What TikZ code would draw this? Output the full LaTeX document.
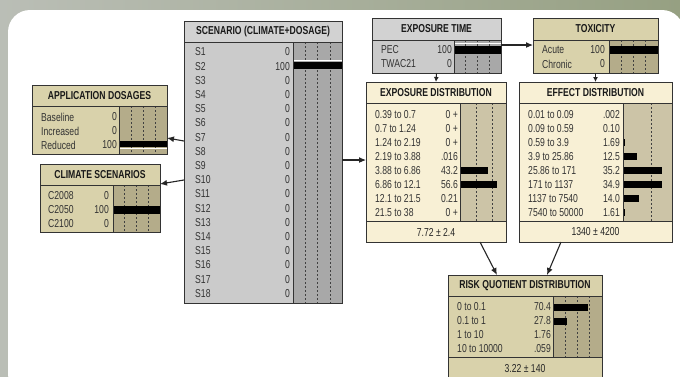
\documentclass[tikz,border=0pt]{standalone}
\usepackage{fontspec}
\setmainfont{Liberation Sans}[FakeStretch=0.75]
\usetikzlibrary{arrows.meta}

\definecolor{photoL}{RGB}{186,190,182}
\definecolor{photoR}{RGB}{150,160,130}
\definecolor{greytitle}{RGB}{210,210,210}
\definecolor{greybody}{RGB}{203,203,203}
\definecolor{greybar}{RGB}{168,168,168}
\definecolor{tanbody}{RGB}{217,210,171}
\definecolor{tanbar}{RGB}{180,172,138}
\definecolor{creambody}{RGB}{248,240,213}
\definecolor{creambar}{RGB}{204,196,167}

\tikzset{
  panel/.style={anchor=north west, inner sep=0pt, outer sep=0pt},
  frame/.style={draw=black!80, line width=0.9pt},
  title/.style={font=\bfseries\fontsize{11.5}{13}\selectfont, text=black!90, inner sep=0pt},
  lbl/.style={anchor=west, font=\fontsize{11.5}{13}\selectfont, text=black!80, inner sep=0pt},
  val/.style={anchor=east, font=\fontsize{11.5}{13}\selectfont, text=black!80, inner sep=0pt},
  stat/.style={font=\fontsize{11.5}{13}\selectfont, text=black!85, inner sep=0pt},
  tick/.style={black!75, line width=0.8pt, dash pattern=on 1.5pt off 2.5pt},
  link/.style={-{Latex[length=7pt,width=6pt]}, line width=1.1pt, black!85},
  shortlink/.style={-{Latex[length=5pt,width=5pt]}, line width=1.1pt, black!85},
}

\begin{document}
\begin{tikzpicture}[x=1pt,y=-1pt]
  \clip (0,0) rectangle (680,376);
  \shade[left color=photoL, right color=photoR] (0,0) rectangle (680,376);
  \fill[white, rounded corners=22pt] (8,10) rectangle (684,396);

  % scenario
  \node[panel, fill=greybody, minimum width=158, minimum height=282] (scen) at (184,21) {};
  \fill[greytitle] (184,21) rectangle (342,42);
  \fill[greybar] (293,42) rectangle (342,303);
  \foreach \x in {305,317.5,330}
    \draw[tick] (\x,42) -- (\x,303);
  \draw[white, line width=1.2pt] (293,60.5) -- (342,60.5);
  \fill (293,62) rectangle (342,69);
  \node[title] (scen-t) at (263,32) {SCENARIO (CLIMATE+DOSAGE)};
  \foreach \i in {1,...,18} {
    \pgfmathsetmacro\yy{52+14.2*(\i-1)}
    \node[lbl] (scen-l\i) at (195,\yy) {S\i};
    \node[val] (scen-v\i) at (290,\yy) {\ifnum\i=2 100\else 0\fi};
  }
  \draw[frame] (scen.north west) rectangle (scen.south east);
  \draw[frame] (184,42) -- (342,42) (293,42) -- (293,303);

  % application dosages
  \node[panel, fill=tanbody, minimum width=135, minimum height=69] (dose) at (32,85) {};
  \fill[tanbar] (119,106) rectangle (167,154);
  \foreach \x in {131,143,155}
    \draw[tick] (\x,106) -- (\x,154);
  \fill (119,140.5) rectangle (167,147);
  \draw[white, line width=1.2pt] (119,148.5) -- (167,148.5);
  \node[title] (dose-t) at (99.5,96) {APPLICATION DOSAGES};
  \foreach \lab/\val [count=\i] in {Baseline/0, Increased/0, Reduced/100} {
    \pgfmathsetmacro\yy{117+14*(\i-1)}
    \node[lbl] (dose-l\i) at (41,\yy) {\lab};
    \node[val] (dose-v\i) at (117,\yy) {\val};
  }
  \draw[frame] (dose.north west) rectangle (dose.south east);
  \draw[frame] (32,106) -- (167,106) (119,106) -- (119,154);

  % climate scenarios
  \node[panel, fill=tanbody, minimum width=120, minimum height=68] (clim) at (40,164) {};
  \fill[tanbar] (113,185) rectangle (160,232);
  \foreach \x in {124.75,136.5,148.25}
    \draw[tick] (\x,185) -- (\x,232);
  \fill (113,206) rectangle (160,213.5);
  \node[title] (clim-t) at (100,175) {CLIMATE SCENARIOS};
  \foreach \lab/\val [count=\i] in {C2008/0, C2050/100, C2100/0} {
    \pgfmathsetmacro\yy{196+14*(\i-1)}
    \node[lbl] (clim-l\i) at (48,\yy) {\lab};
    \node[val] (clim-v\i) at (109,\yy) {\val};
  }
  \draw[frame] (clim.north west) rectangle (clim.south east);
  \draw[frame] (40,185) -- (160,185) (113,185) -- (113,232);

  % exposure time
  \node[panel, fill=greybody, minimum width=129, minimum height=55] (etime) at (372,18) {};
  \fill[greytitle] (372,18) rectangle (501,40);
  \fill[greybar] (454,40) rectangle (501,73);
  \foreach \x in {465.75,477.5,489.25}
    \draw[tick] (\x,40) -- (\x,73);
  \draw[white, line width=1.2pt] (454,43.5) -- (501,43.5);
  \fill (454,45.5) rectangle (501,53.5);
  \node[title] (etime-t) at (436.5,29) {EXPOSURE TIME};
  \foreach \lab/\val [count=\i] in {PEC/100, TWAC21/0} {
    \pgfmathsetmacro\yy{50+14*(\i-1)}
    \node[lbl] (etime-l\i) at (381,\yy) {\lab};
    \node[val] (etime-v\i) at (452,\yy) {\val};
  }
  \draw[frame] (etime.north west) rectangle (etime.south east);
  \draw[frame] (372,40) -- (501,40) (454,40) -- (454,73);

  % toxicity
  \node[panel, fill=tanbody, minimum width=125, minimum height=55] (tox) at (533,18) {};
  \fill[tanbar] (609,40) rectangle (658,73);
  \foreach \x in {621.25,633.5,645.75}
    \draw[tick] (\x,40) -- (\x,73);
  \fill (609,45.5) rectangle (658,53.5);
  \node[title] (tox-t) at (595.5,29) {TOXICITY};
  \foreach \lab/\val [count=\i] in {Acute/100, Chronic/0} {
    \pgfmathsetmacro\yy{50+14*(\i-1)}
    \node[lbl] (tox-l\i) at (542,\yy) {\lab};
    \node[val] (tox-v\i) at (605,\yy) {\val};
  }
  \draw[frame] (tox.north west) rectangle (tox.south east);
  \draw[frame] (533,40) -- (658,40) (609,40) -- (609,73);

  % exposure distribution
  \node[panel, fill=creambody, minimum width=140, minimum height=160] (expd) at (366,82) {};
  \fill[creambar] (460,103) rectangle (506,221);
  \foreach \x in {476,492.5}
    \draw[tick] (\x,103) -- (\x,221);
  \node[title] (expd-t) at (436,93) {EXPOSURE DISTRIBUTION};
  \foreach \lab/\val/\len [count=\i] in {0.39 to 0.7/0 +/0, 0.7 to 1.24/0 +/0,
      1.24 to 2.19/0 +/0, 2.19 to 3.88/.016/0, 3.88 to 6.86/43.2/28,
      6.86 to 12.1/56.6/36.8, 12.1 to 21.5/0.21/0, 21.5 to 38/0 +/0} {
    \pgfmathsetmacro\yy{114.5+14*(\i-1)}
    \node[lbl] (expd-l\i) at (375,\yy) {\lab};
    \node[val] (expd-v\i) at (458,\yy) {\val};
    \fill (460,\yy-3.5) rectangle ++(\len,7);
  }
  \node[stat] (expd-s) at (436,232) {7.72 ± 2.4};
  \draw[frame] (expd.north west) rectangle (expd.south east);
  \draw[frame] (366,103) -- (506,103) (460,103) -- (460,221) (366,221) -- (506,221);

  % effect distribution
  \node[panel, fill=creambody, minimum width=153, minimum height=160] (effd) at (519,82) {};
  \fill[creambar] (623,103) rectangle (672,221);
  \draw[tick] (651.5,103) -- (651.5,221);
  \node[title] (effd-t) at (595.5,93) {EFFECT DISTRIBUTION};
  \foreach \lab/\val/\len [count=\i] in {0.01 to 0.09/.002/0, 0.09 to 0.59/0.10/0.1,
      0.59 to 3.9/1.69/1.9, 3.9 to 25.86/12.5/14, 25.86 to 171/35.2/39.4,
      171 to 1137/34.9/39.1, 1137 to 7540/14.0/15.7, 7540 to 50000/1.61/1.8} {
    \pgfmathsetmacro\yy{114.5+14*(\i-1)}
    \node[lbl] (effd-l\i) at (528,\yy) {\lab};
    \node[val] (effd-v\i) at (620,\yy) {\val};
    \fill (623,\yy-3.5) rectangle ++(\len,7);
  }
  \node[stat] (effd-s) at (595.5,232) {1340 ± 4200};
  \draw[frame] (effd.north west) rectangle (effd.south east);
  \draw[frame] (519,103) -- (672,103) (623,103) -- (623,221) (519,221) -- (672,221);

  % risk quotient distribution
  \node[panel, fill=tanbody, minimum width=154, minimum height=104] (risk) at (448,275) {};
  \fill[tanbar] (553,296) rectangle (602,357);
  \foreach \x in {565.25,577.5,589.75}
    \draw[tick] (\x,296) -- (\x,357);
  \node[title] (risk-t) at (525,286) {RISK QUOTIENT DISTRIBUTION};
  \foreach \lab/\val/\len [count=\i] in {0 to 0.1/70.4/34.5, 0.1 to 1/27.8/13.5,
      1 to 10/1.76/0.9, 10 to 10000/.059/0} {
    \pgfmathsetmacro\yy{307+14*(\i-1)}
    \node[lbl] (risk-l\i) at (457,\yy) {\lab};
    \node[val] (risk-v\i) at (551,\yy) {\val};
    \fill (553,\yy-3.5) rectangle ++(\len,7);
  }
  \node[stat] (risk-s) at (525,369) {3.22 ± 140};
  \draw[frame] (risk.north west) rectangle (risk.south east);
  \draw[frame] (448,296) -- (602,296) (553,296) -- (553,357) (448,357) -- (602,357);

  % links
  \draw[link] (scen.west |- 0,141) -- (dose.east |- 0,138);
  \draw[link] (scen.west |- 0,180) -- (clim.east |- 0,184);
  \draw[link] (scen.east |- 0,160) -- (expd.west |- 0,160);
  \draw[link] (etime.east |- 0,45) -- (tox.west |- 0,45);
  \draw[shortlink] (etime.south) -- (expd.north);
  \draw[shortlink] (tox.south) -- (effd.north);
  \draw[link] (expd.south -| 480,0) -- (risk.north -| 497,0);
  \draw[link] (effd.south -| 561,0) -- (risk.north -| 547,0);
\end{tikzpicture}
\end{document}
